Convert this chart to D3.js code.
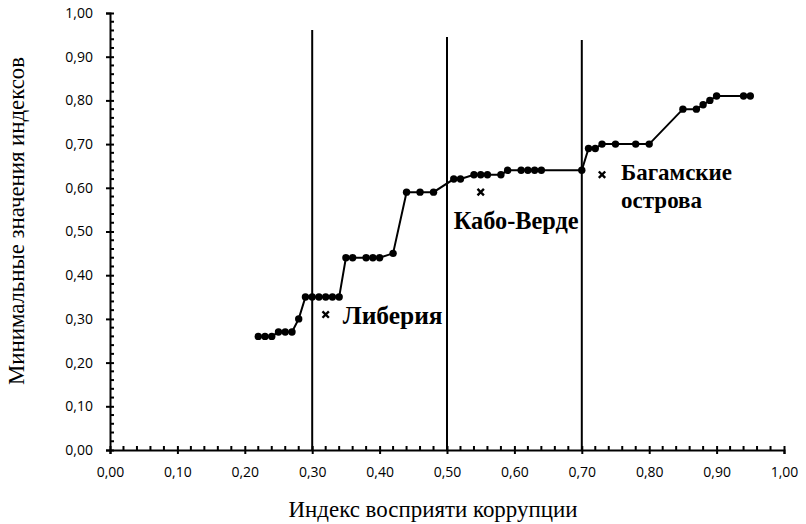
<!DOCTYPE html>
<html><head><meta charset="utf-8">
<script src="https://cdn.jsdelivr.net/npm/d3@7"></script>
<style>body{margin:0;background:#fff} .serif{font-family:"Liberation Serif","DejaVu Serif","Times New Roman",serif}</style>
</head><body>
<svg id="c" width="806" height="524"></svg>
<script>
// Data
const xValues = [0.22,0.23,0.24,0.25,0.26,0.27,0.28,0.29,0.30,0.31,0.32,0.33,0.34,0.35,0.36,0.38,0.39,0.40,0.42,0.44,0.46,0.48,0.51,0.52,0.54,0.55,0.56,0.58,0.59,0.61,0.62,0.63,0.64,0.70,0.71,0.72,0.73,0.75,0.78,0.80,0.85,0.87,0.88,0.89,0.90,0.94,0.95];
const yValues = [0.26,0.26,0.26,0.27,0.27,0.27,0.30,0.35,0.35,0.35,0.35,0.35,0.35,0.44,0.44,0.44,0.44,0.44,0.45,0.59,0.59,0.59,0.62,0.62,0.63,0.63,0.63,0.63,0.64,0.64,0.64,0.64,0.64,0.64,0.69,0.69,0.70,0.70,0.70,0.70,0.78,0.78,0.79,0.80,0.81,0.81,0.81];
const countries = ["Либерия","Кабо-Верде","Багамские острова"];
const countryX = [0.32,0.55,0.73];
const countryY = [0.31,0.59,0.63];
const thresholdX = [0.30,0.50,0.70];
const thresholdTop = [0.961,0.945,0.938];
const xTicks = [0,0.1,0.2,0.3,0.4,0.5,0.6,0.7,0.8,0.9,1.0];
const yTicks = [0,0.1,0.2,0.3,0.4,0.5,0.6,0.7,0.8,0.9,1.0];
const xTitle = "Индекс восприяти коррупции";
const yTitle = "Минимальные значения индексов";

const svg = d3.select("#c");
const x = d3.scaleLinear().domain([0,1]).range([110,784]);
const y = d3.scaleLinear().domain([0,1]).range([450,13]);
const fmt = d => d.toFixed(2).replace(".", ",");
const minor = d3.range(0, 1.0001, 0.02).filter(v => Math.abs(v*10 - Math.round(v*10)) > 1e-6);

// fit a text element's font size so its width equals target
function fit(sel, target) {
  const n = sel.node();
  const fs = parseFloat(sel.attr("font-size"));
  const w = n.getComputedTextLength();
  if (w > 0) sel.attr("font-size", (fs * target / w).toFixed(2));
  return sel;
}

// threshold lines
svg.append("g").selectAll("line").data(thresholdX).join("line")
  .attr("x1", d => x(d)).attr("x2", d => x(d))
  .attr("y1", (d,i) => y(thresholdTop[i])).attr("y2", y(0))
  .attr("stroke", "#000").attr("stroke-width", 2);

// axes
const gx = svg.append("g").attr("transform", `translate(0,${y(0)})`)
  .call(d3.axisBottom(x).tickValues(xTicks).tickSize(4).tickPadding(13).tickFormat(fmt));
const gy = svg.append("g").attr("transform", `translate(${x(0)},0)`)
  .call(d3.axisLeft(y).tickValues(yTicks).tickSize(4).tickPadding(13).tickFormat(fmt));
[gx, gy].forEach(g => {
  g.select(".domain").attr("stroke", "#000").attr("stroke-width", 2);
  g.selectAll(".tick line").attr("stroke", "#000").attr("stroke-width", 2);
  g.selectAll("text").attr("font-family", "'Open Sans', sans-serif").attr("font-size", 14).attr("fill", "#000");
});
gx.selectAll(".tick").append("line").attr("y1", 0).attr("y2", -4).attr("stroke", "#000").attr("stroke-width", 2);
gy.selectAll(".tick").append("line").attr("x1", 0).attr("x2", 4).attr("stroke", "#000").attr("stroke-width", 2);
svg.append("g").selectAll("line").data(minor).join("line")
  .attr("x1", d => x(d)).attr("x2", d => x(d)).attr("y1", y(0)).attr("y2", y(0) - 4)
  .attr("stroke", "#000").attr("stroke-width", 2);
svg.append("g").selectAll("line").data(minor).join("line")
  .attr("y1", d => y(d)).attr("y2", d => y(d)).attr("x1", x(0)).attr("x2", x(0) + 4)
  .attr("stroke", "#000").attr("stroke-width", 2);

// series line
const pts = xValues.map((v,i) => [v, yValues[i]]);
svg.append("path").datum(pts)
  .attr("d", d3.line().x(d => x(d[0])).y(d => y(d[1])))
  .attr("fill", "none").attr("stroke", "#000").attr("stroke-width", 2);
svg.append("g").selectAll("circle").data(pts).join("circle")
  .attr("cx", d => x(d[0])).attr("cy", d => y(d[1])).attr("r", 3.7).attr("fill", "#000");

// country crosses
const s = 3.2;
svg.append("g").selectAll("path").data(countries).join("path")
  .attr("transform", (d,i) => `translate(${x(countryX[i])},${y(countryY[i])})`)
  .attr("d", `M${-s},${-s}L${s},${s}M${-s},${s}L${s},${-s}`)
  .attr("stroke", "#000").attr("stroke-width", 2.4);

// labels
const lab = svg.append("g").attr("class", "serif")
  .attr("font-weight", "bold").attr("fill", "#000");
const parts = countries[2].split(" ");
fit(lab.append("text").attr("font-size", 20).attr("x", x(countryX[0]) + 17).attr("y", y(countryY[0]) + 9).text(countries[0]), 100);
fit(lab.append("text").attr("font-size", 20).attr("x", x(countryX[1]) - 27).attr("y", y(countryY[1]) + 37).text(countries[1]), 125);
fit(lab.append("text").attr("font-size", 20).attr("x", x(countryX[2]) + 19).attr("y", y(countryY[2]) + 5).text(parts[0]), 111);
fit(lab.append("text").attr("font-size", 20).attr("x", x(countryX[2]) + 19).attr("y", y(countryY[2]) + 33).text(parts[1]), 81);

// titles
fit(svg.append("text").attr("class", "serif").attr("x", 433).attr("y", 517).attr("text-anchor", "middle")
  .attr("font-size", 20).attr("fill", "#000").text(xTitle), 289);
fit(svg.append("text").attr("class", "serif").attr("transform", "translate(24,221) rotate(-90)").attr("text-anchor", "middle")
  .attr("font-size", 20).attr("fill", "#000").text(yTitle), 328);
</script>
</body></html>
